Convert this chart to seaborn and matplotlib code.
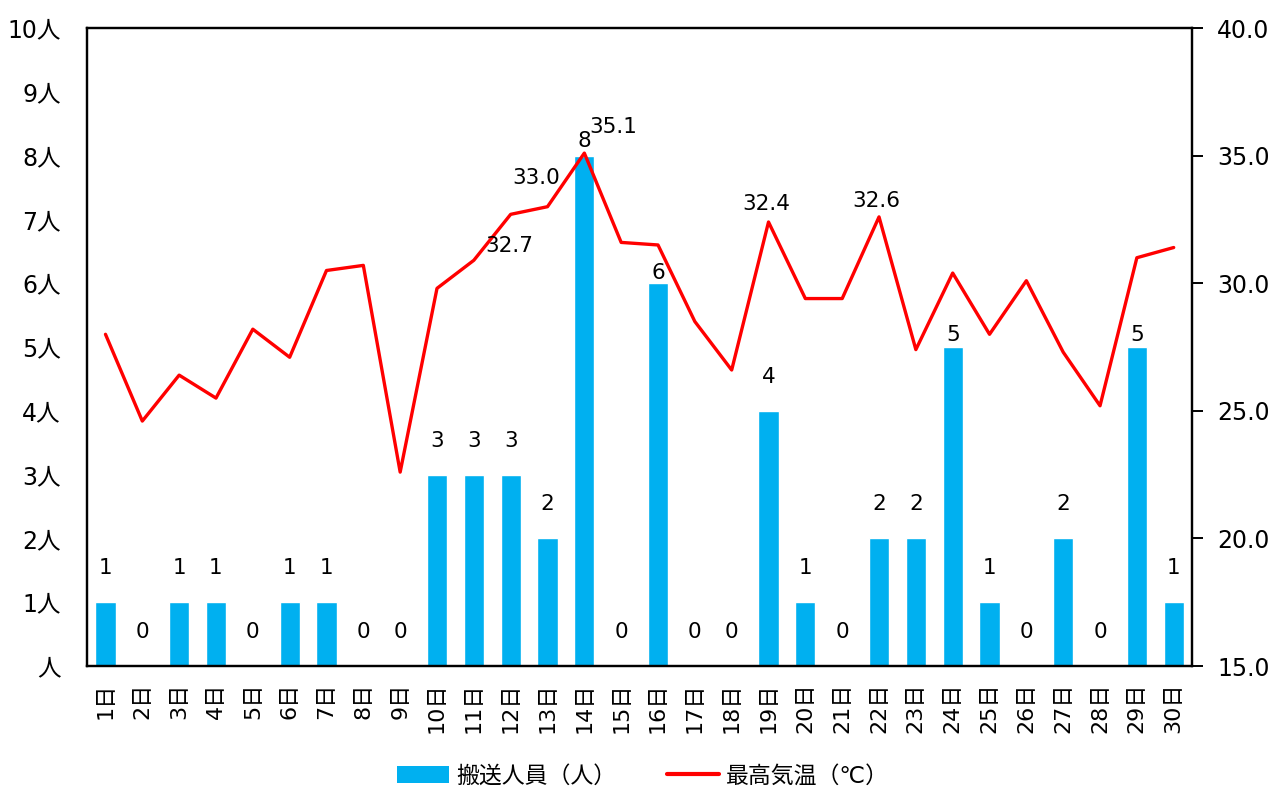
import numpy as np
import pandas as pd
import matplotlib
matplotlib.use("Agg")
import matplotlib.pyplot as plt
import seaborn as sns
from matplotlib.patches import Patch
from matplotlib.lines import Line2D

days = [f"{d}日" for d in range(1, 31)]
persons = [1, 0, 1, 1, 0, 1, 1, 0, 0, 3, 3, 3, 2, 8, 0, 6, 0, 0, 4, 1,
           0, 2, 2, 5, 1, 0, 2, 0, 5, 1]
max_temp = [28.0, 24.6, 26.4, 25.5, 28.2, 27.1, 30.5, 30.7, 22.6, 29.8,
            30.9, 32.7, 33.0, 35.1, 31.6, 31.5, 28.5, 26.6, 32.4, 29.4,
            29.4, 32.6, 27.4, 30.4, 28.0, 30.1, 27.3, 25.2, 31.0, 31.4]
temp_labelled = ["12日", "13日", "14日", "19日", "22日"]

df = pd.DataFrame({"日": days, "搬送人員": persons, "最高気温": max_temp})

sns.set_theme(style="white")
plt.rcParams["font.family"] = ["DejaVu Sans", "Noto Sans CJK JP"]
plt.rcParams["text.color"] = "black"
plt.rcParams["xtick.color"] = "black"
plt.rcParams["ytick.color"] = "black"

bar_color = "#00B0F0"
line_color = "#FF0000"

fig = plt.figure(figsize=(12.86, 7.92), dpi=100)
ax = fig.add_axes([0.0677, 0.159, 0.8593, 0.8056])

sns.barplot(data=df, x="日", y="搬送人員", color=bar_color, width=0.55,
            saturation=1, ax=ax)
ax.set_xlim(-0.5, len(days) - 0.5)
ax.set_ylim(0, 10)
ax.set_yticks(range(0, 11))
ax.set_yticklabels([f"{v}人" if v else "人" for v in range(0, 11)], fontsize=17)
ax.set_xticks(range(len(days)))
ax.set_xticklabels(days, rotation=90, fontsize=16)
ax.tick_params(axis="y", length=0, pad=19)
ax.tick_params(axis="x", length=0, pad=12)
ax.set_xlabel("")
ax.set_ylabel("")

# bar value labels; a few sit closer to the bar in the original
label_gap = {"14日": 15, "16日": 10, "24日": 12, "29日": 12}
for i, (d, v) in enumerate(zip(days, persons)):
    ax.annotate(str(v), (i, v), xytext=(0, label_gap.get(d, 34)),
                textcoords="offset pixels", ha="center", va="center",
                fontsize=15.5)

ax2 = ax.twinx()
sns.lineplot(x=np.arange(len(days)), y=max_temp, color=line_color,
             linewidth=2.4, ax=ax2)
ax2.set_ylim(15, 40)
ax2.set_yticks(np.arange(15, 41, 5))
ax2.set_yticklabels([f"{v:.1f}" for v in np.arange(15, 41, 5)], fontsize=17)
ax2.tick_params(axis="y", length=8, width=1.4, color="black", pad=10,
                direction="out", right=True)
ax2.grid(False)
ax.grid(False)

# temperature labels
temp_offsets = {"12日": (-1, -32), "13日": (-11, 29), "14日": (29, 26),
                "19日": (-2, 18), "22日": (-3, 16)}
for d in temp_labelled:
    i = days.index(d)
    ax2.annotate(f"{max_temp[i]:.1f}", (i, max_temp[i]),
                 xytext=temp_offsets[d], textcoords="offset pixels",
                 ha="center", va="center", fontsize=15.5)

for a in (ax, ax2):
    for spine in a.spines.values():
        spine.set_visible(True)
        spine.set_color("black")
        spine.set_linewidth(1.6)

handles = [Patch(facecolor=bar_color, edgecolor="none"),
           Line2D([0], [0], color=line_color, linewidth=3)]
fig.legend(handles, ["搬送人員（人）", "最高気温（℃）"], loc="center",
           ncol=2, frameon=False, fontsize=16.5,
           bbox_to_anchor=(0.5, 1 - 776 / 792),
           handlelength=2.3, handleheight=0.75, handletextpad=0.3,
           columnspacing=2.2)

fig.savefig("out.png", dpi=100)
